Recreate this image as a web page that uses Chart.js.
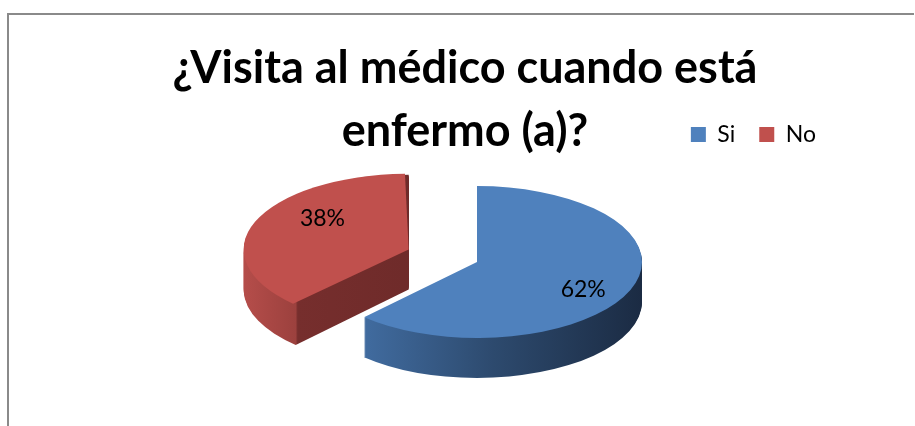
<!DOCTYPE html>
<html>
<head>
<meta charset="utf-8">
<script src="https://cdn.jsdelivr.net/npm/chart.js@4"></script>
<style>
  html, body { margin: 0; padding: 0; background: #fff; }
  #wrap { position: relative; width: 915px; height: 426px; overflow: hidden; }
  #frame { position: absolute; left: 7px; top: 13px; right: 1px; bottom: -4px; border-top: 2px solid #8a8a8a; border-left: 2px solid #8a8a8a; }
  canvas { position: absolute; left: 0; top: 0; }
</style>
</head>
<body>
<div id="wrap">
  <div id="frame"></div>
  <canvas id="chart" width="915" height="426"></canvas>
</div>
<script>
const titleLines = ['¿Visita al médico cuando está', 'enfermo (a)?'];
const categories = ['Si', 'No'];
const percentages = [62, 38];
const topColors = ['#4f81bd', '#c0504d'];
const explode = [0, 294];

// 3d look: vertical squash of the pie, thickness of the side, sideways nudge
const TILT = 0.46;
const DEPTH = 40;
const SHIFT_X = 12;
const RADIUS = 165;
const LABEL_AT = 0.7;
const LABEL_TURN = 12 * Math.PI / 180;
const LABEL_DX = 10;

function sliceGeom(el) {
  const off = (el.options.offset || 0) / 4;
  const mid = (el.startAngle + el.endAngle) / 2;
  return { x: el.x + Math.cos(mid) * off, y: el.y + Math.sin(mid) * off, mid, off };
}

function tilt(ctx, cx, cy, drop) {
  ctx.translate(cx + SHIFT_X, cy + drop);
  ctx.scale(1, TILT);
  ctx.translate(-cx, -cy);
}

function sideFill(ctx, el, g, i, R) {
  const grad = ctx.createLinearGradient(g.x - R, 0, g.x + R, 0);
  if (i === 0) {
    grad.addColorStop(0.15, '#416ca0');
    grad.addColorStop(0.55, '#2d4a6e');
    grad.addColorStop(1, '#1b2b43');
  } else {
    // lighter curved rim up to the corner, dark cut face after it
    const t = (1 + Math.cos(el.startAngle)) / 2;
    grad.addColorStop(0, '#b54d4a');
    grad.addColorStop(t, '#9c413e');
    grad.addColorStop(Math.min(t + 0.006, 1), '#762e2d');
    grad.addColorStop(1, '#642625');
  }
  return grad;
}

function pieRadius(meta) {
  const r = meta.controller && meta.controller.outerRadius;
  return Number.isFinite(r) ? r : RADIUS;
}

const pie3d = {
  id: 'pie3d',
  beforeDatasetsDraw(chart) {
    const meta = chart.getDatasetMeta(0);
    const ctx = chart.ctx;
    const R = pieRadius(meta);
    const cx = meta.data[0].x;
    const cy = meta.data[0].y;

    // exploded slices keep the same radius as the others
    meta.data.forEach((el) => {
      const off = (el.options.offset || 0) / 4;
      const fix = 1 - Math.sin(Math.min(Math.PI, el.circumference));
      el.outerRadius = R - off * fix;
    });

    for (let d = DEPTH; d >= 1; d--) {
      meta.data.forEach((el, i) => {
        const g = sliceGeom(el);
        ctx.save();
        tilt(ctx, cx, cy, d);
        ctx.beginPath();
        ctx.moveTo(g.x, g.y);
        ctx.arc(g.x, g.y, R, el.startAngle, el.endAngle);
        ctx.closePath();
        ctx.fillStyle = sideFill(ctx, el, g, i, R);
        ctx.fill();
        ctx.restore();
      });
    }

    ctx.save();
    tilt(ctx, cx, cy, 0);
  },
  afterDatasetsDraw(chart) {
    const ctx = chart.ctx;
    ctx.restore();

    const meta = chart.getDatasetMeta(0);
    const R = pieRadius(meta);
    const cy = meta.data[0].y;
    ctx.save();
    ctx.font = '23px Lato';
    ctx.fillStyle = '#000';
    ctx.textAlign = 'center';
    ctx.textBaseline = 'middle';
    meta.data.forEach((el, i) => {
      const g = sliceGeom(el);
      const a = g.mid + LABEL_TURN;
      const ux = g.x + Math.cos(a) * R * LABEL_AT;
      const uy = g.y + Math.sin(a) * R * LABEL_AT;
      ctx.fillText(percentages[i] + '%', ux + SHIFT_X + LABEL_DX, cy + TILT * (uy - cy) - 2);
    });
    ctx.restore();
  },
};

new Chart(document.getElementById('chart'), {
  type: 'pie',
  data: {
    labels: categories,
    datasets: [{
      data: percentages,
      backgroundColor: topColors,
      borderWidth: 0,
      offset: explode,
      radius: RADIUS,
      clip: false,
    }],
  },
  options: {
    responsive: false,
    devicePixelRatio: 1,
    animation: false,
    events: [],
    layout: { padding: { left: 90, right: 75, top: 0, bottom: 58 } },
    plugins: {
      title: {
        display: true,
        text: titleLines,
        color: '#000',
        font: { family: 'Lato', weight: 'bold', size: 45, lineHeight: 1.4 },
        padding: { top: 37, bottom: -64 },
      },
      legend: {
        position: 'top',
        align: 'end',
        labels: {
          boxWidth: 15,
          boxHeight: 15,
          padding: 24,
          color: '#000',
          font: { family: 'Lato', size: 23 },
        },
      },
      tooltip: { enabled: false },
    },
  },
  plugins: [pie3d],
});
</script>
</body>
</html>
